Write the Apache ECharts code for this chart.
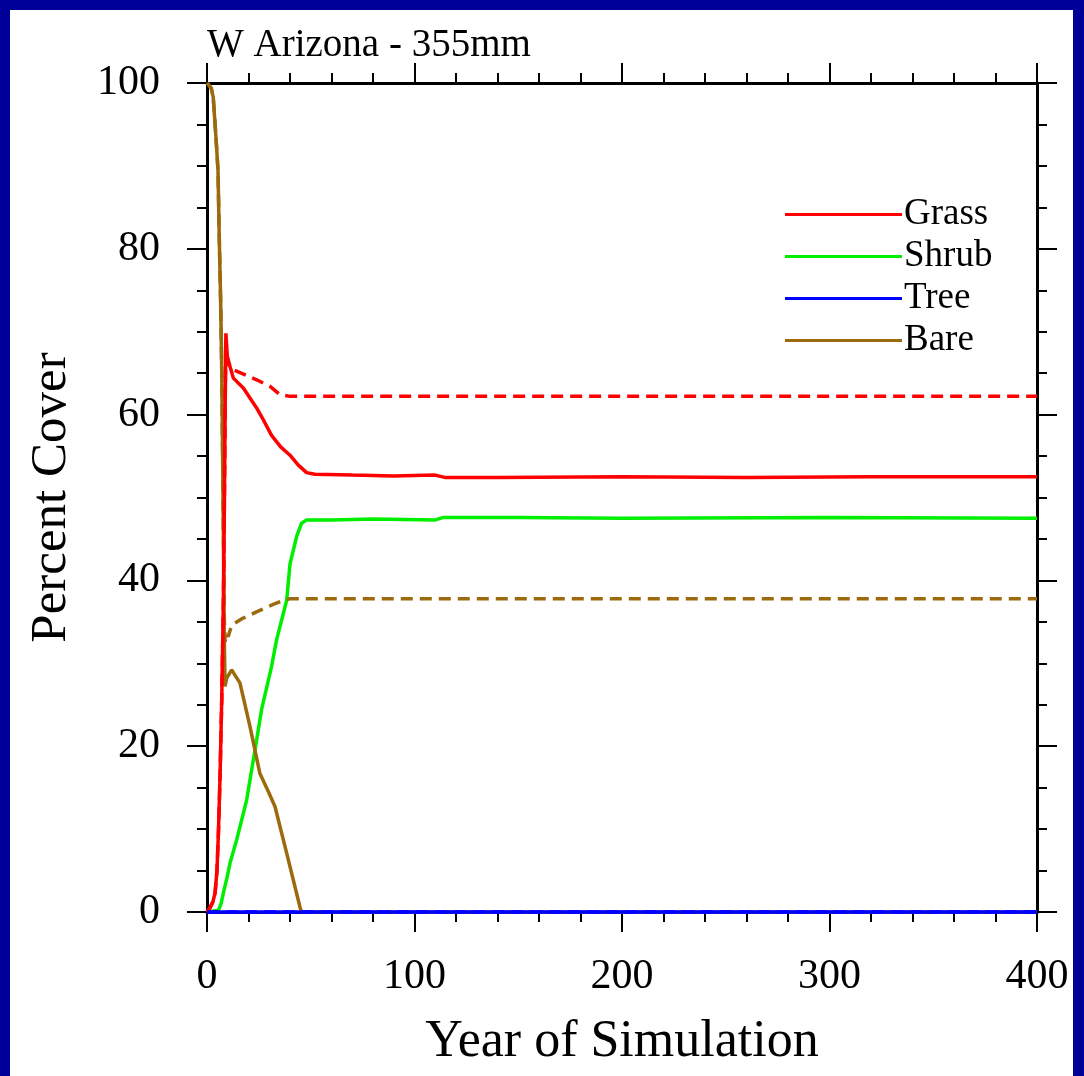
<!DOCTYPE html>
<html>
<head>
<meta charset="utf-8">
<script src="https://cdn.jsdelivr.net/npm/echarts@6/dist/echarts.min.js"></script>
<style>
  html, body { margin: 0; padding: 0; background: #000099; width: 1084px; height: 1076px; overflow: hidden; }
  #main { position: absolute; left: 10px; top: 10px; width: 1063px; height: 1066px; background: #fff; }
</style>
</head>
<body>
<div id="main"></div>
<script>
// 数据
var grassYears = [0, 1.4, 2.8, 3.9, 4.8, 5.5, 6.3, 7.1, 7.9, 8.4, 8.8, 9.1, 9.8, 11.1, 12.7, 17.5, 23.9, 27.5, 31.1, 35.5, 40, 44, 48, 52, 70, 90, 110, 115, 140, 200, 260, 320, 400];
var grassVals = [0, 0.5, 1.2, 2.3, 5, 9.5, 16.5, 25.6, 37.6, 50, 62, 69.8, 67, 65.8, 64.4, 63.2, 60.8, 59.2, 57.5, 56.1, 55.1, 53.9, 53.0, 52.8, 52.7, 52.6, 52.7, 52.4, 52.4, 52.5, 52.4, 52.5, 52.5];
var grassDashYears = [0, 1.4, 2.8, 3.9, 4.8, 5.5, 6.3, 7.1, 7.9, 8.4, 8.8, 9.1, 9.8, 11.1, 12.7, 23.9, 30.4, 35.2, 40, 100, 200, 300, 400];
var grassDashVals = [0, 0.5, 1.2, 2.3, 5, 9.5, 16.5, 25.6, 37.6, 50, 62, 69, 66.5, 65.6, 65.4, 64.2, 63.4, 62.4, 62.2, 62.2, 62.2, 62.2, 62.2];

var shrubYears = [0, 5.5, 6.8, 7.9, 9.5, 11.1, 14.3, 19.1, 23.1, 26.3, 31.1, 33.5, 38.4, 40, 43.2, 45.6, 48, 60, 80, 110, 114, 150, 200, 300, 400];
var shrubVals = [0, 0.2, 1, 2.3, 4, 5.9, 8.7, 13.5, 19.5, 24.4, 29.6, 32.8, 37.6, 42, 45.3, 46.9, 47.3, 47.3, 47.4, 47.3, 47.6, 47.6, 47.5, 47.6, 47.5];

var treeYears = [0, 100, 200, 300, 400];
var treeVals = [0, 0, 0, 0, 0];

var bareYears = [0, 0.6, 2, 3, 4.3, 5.3, 5.9, 6.6, 7.1, 7.9, 8.3, 8.7, 9.5, 11.9, 15.9, 20.7, 25.5, 29.6, 32.8, 38.4, 44.8, 45.5, 100, 200, 300, 400];
var bareVals = [100, 100, 99.4, 98.3, 93.5, 89.5, 81.5, 73.4, 65.4, 46, 33.6, 27.2, 28.2, 29.2, 27.6, 22.4, 16.7, 14.5, 12.7, 7.1, 0.6, 0, 0, 0, 0, 0];
var bareDashYears = [0, 0.6, 2, 3, 4.3, 5.3, 5.9, 6.6, 7.1, 7.9, 8.3, 8.7, 9.4, 10.2, 11.9, 17, 23.9, 31.9, 37, 40, 100, 200, 300, 400];
var bareDashVals = [100, 100, 99.4, 98.3, 93.5, 89.5, 81.5, 73.4, 65.4, 46, 36, 32.6, 33.6, 33.2, 34.6, 35.4, 36.2, 37.1, 37.6, 37.8, 37.8, 37.8, 37.8, 37.8];

var xTicks = [0, 100, 200, 300, 400];
var yTicks = [0, 20, 40, 60, 80, 100];
var seriesNames = ['Grass', 'Shrub', 'Tree', 'Bare'];
var seriesColors = ['#ff0000', '#00ee00', '#0000ff', '#9c6a0c'];

function pairs(xs, ys) {
  return xs.map(function (x, i) { return [x, ys[i]]; });
}

var font = 'Liberation Serif';
var chart = echarts.init(document.getElementById('main'));

function xAxisCfg(pos, showLabel) {
  return {
    type: 'value', position: pos, min: xTicks[0], max: xTicks[xTicks.length - 1], interval: 100,
    axisLine: { show: true, onZero: false, lineStyle: { color: '#000', width: 3 } },
    axisTick: { show: true, length: 20, lineStyle: { color: '#000', width: 2 } },
    minorTick: { show: true, splitNumber: 5, length: 10, lineStyle: { color: '#000', width: 2 } },
    splitLine: { show: false },
    axisLabel: { show: showLabel, fontFamily: font, fontSize: 42, color: '#000', margin: 44 },
    name: showLabel ? 'Year of Simulation' : '',
    nameLocation: 'middle', nameGap: 104,
    nameTextStyle: { fontFamily: font, fontSize: 52, color: '#000' }
  };
}
function yAxisCfg(pos, showLabel) {
  return {
    type: 'value', position: pos, min: yTicks[0], max: yTicks[yTicks.length - 1], interval: 20,
    axisLine: { show: true, onZero: false, lineStyle: { color: '#000', width: 3 } },
    axisTick: { show: true, length: 20, lineStyle: { color: '#000', width: 2 } },
    minorTick: { show: true, splitNumber: 4, length: 10, lineStyle: { color: '#000', width: 2 } },
    splitLine: { show: false },
    axisLabel: { show: showLabel, fontFamily: font, fontSize: 42, color: '#000', margin: 47 },
    name: showLabel ? 'Percent Cover' : '',
    nameLocation: 'middle', nameGap: 130, nameRotate: 90,
    nameTextStyle: { fontFamily: font, fontSize: 51, color: '#000' }
  };
}

function lineSeries(name, idx, data, dashed) {
  return {
    name: name, type: 'line', data: data, showSymbol: false, symbol: 'none', clip: false,
    xAxisIndex: 0, yAxisIndex: 0, animation: false,
    lineStyle: { color: seriesColors[idx], width: 3.5, type: dashed ? [12, 7] : 'solid' },
    itemStyle: { color: seriesColors[idx] }
  };
}

var option = {
  animation: false,
  title: {
    text: 'W Arizona - 355mm', left: 197, top: 16, padding: 0,
    textStyle: { fontFamily: font, fontSize: 39, fontWeight: 'normal', color: '#000' }
  },
  legend: {
    data: seriesNames, orient: 'vertical', left: 775, top: 186, padding: 0,
    icon: 'rect', itemWidth: 117, itemHeight: 3, itemGap: 5,
    textStyle: { fontFamily: font, fontSize: 37, color: '#000', padding: [0, 0, 0, -3] }
  },
  grid: { left: 197, top: 73, right: 36, bottom: 164, containLabel: false },
  xAxis: [xAxisCfg('bottom', true), xAxisCfg('top', false)],
  yAxis: [yAxisCfg('left', true), yAxisCfg('right', false)],
  series: [
    lineSeries('Shrub', 1, pairs(shrubYears, shrubVals), false),
    lineSeries('Bare', 3, pairs(bareYears, bareVals), false),
    lineSeries('Bare dashed', 3, pairs(bareDashYears, bareDashVals), true),
    lineSeries('Grass', 0, pairs(grassYears, grassVals), false),
    lineSeries('Grass dashed', 0, pairs(grassDashYears, grassDashVals), true),
    lineSeries('Tree', 2, pairs(treeYears, treeVals), false),
    lineSeries('Tree dashed', 2, pairs(treeYears, treeVals), true)
  ]
};
chart.setOption(option);
</script>
</body>
</html>
